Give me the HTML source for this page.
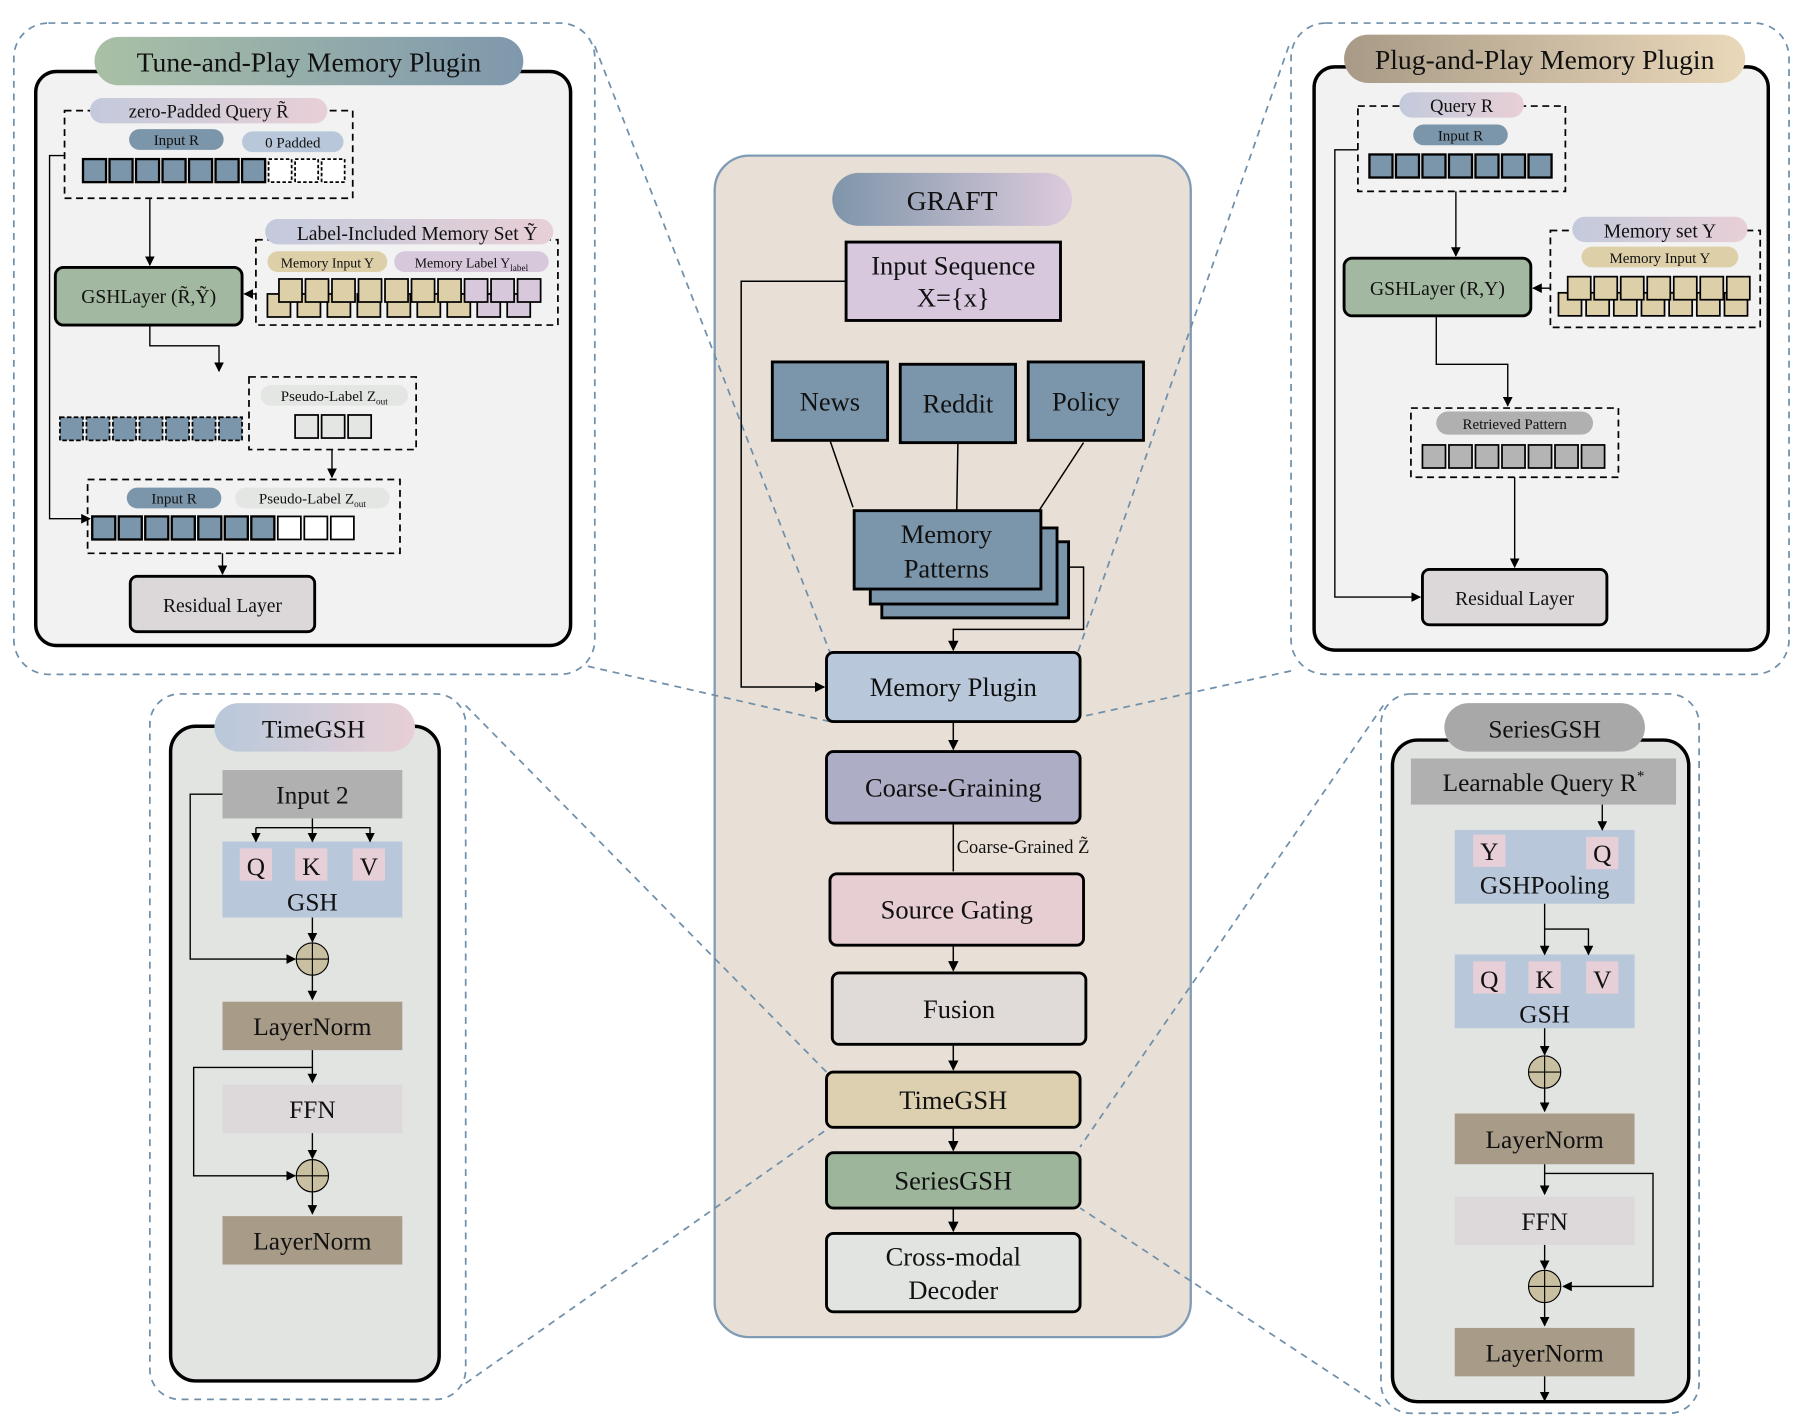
<!DOCTYPE html>
<html><head><meta charset="utf-8"><style>
html,body{margin:0;padding:0;background:#fff;}
svg text{font-family:"Liberation Serif",serif;fill:#111;}
</style></head><body>
<svg width="1804" height="1419" viewBox="0 0 1565 1231" xmlns="http://www.w3.org/2000/svg">
<defs>
<marker id="a" viewBox="0 0 10 10" refX="9" refY="5" markerWidth="7" markerHeight="7" orient="auto"><path d="M0,0L10,5L0,10z" fill="#000"/></marker>
<linearGradient id="g1"><stop offset="0" stop-color="#a9c0a6"/><stop offset="1" stop-color="#7f98ad"/></linearGradient>
<linearGradient id="g2"><stop offset="0" stop-color="#a89a86"/><stop offset="1" stop-color="#ead8ba"/></linearGradient>
<linearGradient id="g3"><stop offset="0" stop-color="#7f95aa"/><stop offset="1" stop-color="#dccbdc"/></linearGradient>
<linearGradient id="g4"><stop offset="0" stop-color="#c3cadc"/><stop offset="1" stop-color="#e8cfd6"/></linearGradient>
<linearGradient id="g5"><stop offset="0" stop-color="#b8c8da"/><stop offset="1" stop-color="#e8cfd6"/></linearGradient>
</defs>
<!-- center -->
<rect x="620" y="135" width="413" height="1025" rx="30" fill="#e8e0d6" stroke="#7f9bb5" stroke-width="2"/>
<g fill="none" stroke="#6f8faa" stroke-width="1.5" stroke-dasharray="6,5">
<rect x="12" y="20" width="504" height="565" rx="30"/>
<rect x="1120" y="20" width="432" height="565" rx="30"/>
<rect x="130" y="602" width="274" height="612" rx="26"/>
<rect x="1198" y="602" width="276" height="624" rx="26"/>
<line x1="516" y1="40" x2="720" y2="566"/><line x1="510" y1="578" x2="720" y2="626"/>
<line x1="1118" y1="40" x2="935" y2="566"/><line x1="1120" y1="582" x2="937" y2="622"/>
<line x1="404" y1="612" x2="717" y2="930"/><line x1="404" y1="1200" x2="717" y2="980"/>
<line x1="1200" y1="612" x2="937" y2="995"/><line x1="1198" y1="1220" x2="937" y2="1048"/>
</g>
<rect x="722" y="150" width="208" height="46" rx="23" fill="url(#g3)"/>
<text x="826" y="182" font-size="24" text-anchor="middle">GRAFT</text>
<g stroke="#000" stroke-width="2.5">
<rect x="734" y="210" width="186" height="68" fill="#d8c8de"/>
<rect x="670" y="314" width="100" height="68" fill="#7b95aa"/>
<rect x="781" y="316" width="100" height="68" fill="#7b95aa"/>
<rect x="892" y="314" width="100" height="68" fill="#7b95aa"/>
<rect x="765" y="470" width="162" height="66" fill="#7b95aa"/>
<rect x="755" y="458" width="162" height="66" fill="#7b95aa"/>
<rect x="741" y="443" width="162" height="68" fill="#7b95aa"/>
<rect x="717" y="566" width="220" height="60" rx="6" fill="#b8c8da"/>
<rect x="717" y="652" width="220" height="62" rx="6" fill="#aeadc6"/>
<rect x="720" y="758" width="220" height="62" rx="6" fill="#e6ced2"/>
<rect x="722" y="844" width="220" height="62" rx="6" fill="#e0dad8"/>
<rect x="717" y="930" width="220" height="48" rx="6" fill="#ddd0b0"/>
<rect x="717" y="1000" width="220" height="48" rx="6" fill="#9db59b"/>
<rect x="717" y="1070" width="220" height="68" rx="6" fill="#e2e4e2"/>
</g>
<g font-size="23" text-anchor="middle">
<text x="827" y="238">Input Sequence</text><text x="827" y="266">X={x}</text>
<text x="720" y="356">News</text><text x="831" y="358">Reddit</text><text x="942" y="356">Policy</text>
<text x="821" y="471">Memory</text><text x="821" y="501">Patterns</text>
<text x="827" y="604">Memory Plugin</text>
<text x="827" y="691">Coarse-Graining</text>
<text x="830" y="797">Source Gating</text>
<text x="832" y="883">Fusion</text>
<text x="827" y="962">TimeGSH</text>
<text x="827" y="1032">SeriesGSH</text>
<text x="827" y="1098">Cross-modal</text><text x="827" y="1127">Decoder</text>
</g>
<g stroke="#000" stroke-width="1.3" fill="none">
<line x1="720" y1="382" x2="740" y2="440"/><line x1="831" y1="384" x2="830" y2="442"/><line x1="940" y1="384" x2="902" y2="442"/>
<polyline points="927,492 940,492 940,546 827,546 827,564" marker-end="url(#a)"/>
<polyline points="734,244 643,244 643,596 715,596" marker-end="url(#a)"/>
<line x1="827" y1="626" x2="827" y2="650" marker-end="url(#a)"/>
<line x1="827" y1="714" x2="827" y2="756"/>
<line x1="827" y1="820" x2="827" y2="842" marker-end="url(#a)"/>
<line x1="827" y1="906" x2="827" y2="928" marker-end="url(#a)"/>
<line x1="827" y1="978" x2="827" y2="998" marker-end="url(#a)"/>
<line x1="827" y1="1048" x2="827" y2="1068" marker-end="url(#a)"/>
</g>
<text x="830" y="740" font-size="16">Coarse-Grained Z̃</text>

<!-- Tune-and-Play -->
<rect x="31" y="62" width="464" height="498" rx="18" fill="#f2f2f2" stroke="#000" stroke-width="3"/>
<rect x="1140" y="58" width="394" height="506" rx="18" fill="#f2f2f2" stroke="#000" stroke-width="3"/>
<rect x="82" y="32" width="372" height="42" rx="21" fill="url(#g1)"/>
<text x="268" y="62" font-size="24" text-anchor="middle">Tune-and-Play Memory Plugin</text>
<g fill="none" stroke="#000" stroke-width="1.5" stroke-dasharray="6,4">
<rect x="56" y="96" width="250" height="76"/>
<rect x="222" y="208" width="262" height="74"/>
<rect x="216" y="327" width="145" height="63"/>
<rect x="76" y="416" width="271" height="64"/>
<rect x="1178" y="92" width="180" height="74"/>
<rect x="1345" y="200" width="182" height="84"/>
<rect x="1224" y="354" width="180" height="60"/>
</g>
<rect x="78" y="85" width="206" height="22" rx="11" fill="url(#g4)"/>
<text x="181" y="102" font-size="16" text-anchor="middle">zero-Padded Query R̃</text>
<rect x="112" y="112" width="82" height="18" rx="9" fill="#7b95aa"/><text x="153" y="126" font-size="13" text-anchor="middle">Input R</text>
<rect x="210" y="114" width="88" height="18" rx="9" fill="#b8c8da"/><text x="254" y="128" font-size="13" text-anchor="middle">0 Padded</text>
<g stroke="#000" stroke-width="2" fill="#7b95aa">
<rect x="72" y="138" width="20" height="20"/><rect x="95" y="138" width="20" height="20"/><rect x="118" y="138" width="20" height="20"/><rect x="141" y="138" width="20" height="20"/><rect x="164" y="138" width="20" height="20"/><rect x="187" y="138" width="20" height="20"/><rect x="210" y="138" width="20" height="20"/>
</g>
<g stroke="#000" stroke-width="1.5" fill="#fff" stroke-dasharray="3,2">
<rect x="233" y="138" width="20" height="20"/><rect x="256" y="138" width="20" height="20"/><rect x="279" y="138" width="20" height="20"/>
</g>
<rect x="48" y="232" width="162" height="50" rx="7" fill="#a3b8a0" stroke="#000" stroke-width="2.5"/>
<text x="129" y="263" font-size="17" text-anchor="middle">GSHLayer (R̃,Ỹ)</text>
<rect x="230" y="190" width="250" height="22" rx="11" fill="url(#g4)"/>
<text x="362" y="208" font-size="17" text-anchor="middle">Label-Included Memory Set Ỹ</text>
<rect x="232" y="218" width="104" height="18" rx="9" fill="#ddcfa8"/><text x="284" y="232" font-size="12" text-anchor="middle">Memory Input Y</text>
<rect x="342" y="218" width="134" height="18" rx="9" fill="#d8c8dc"/><text x="409" y="232" font-size="12" text-anchor="middle">Memory Label Y<tspan font-size="8" dy="3">label</tspan></text>
<g stroke="#000" stroke-width="1.5">
<g fill="#ddcfa8">
<rect x="232" y="255" width="20" height="20"/><rect x="258" y="255" width="20" height="20"/><rect x="284" y="255" width="20" height="20"/><rect x="310" y="255" width="20" height="20"/><rect x="336" y="255" width="20" height="20"/><rect x="362" y="255" width="20" height="20"/><rect x="388" y="255" width="20" height="20"/>
<rect x="242" y="242" width="20" height="20"/><rect x="265" y="242" width="20" height="20"/><rect x="288" y="242" width="20" height="20"/><rect x="311" y="242" width="20" height="20"/><rect x="334" y="242" width="20" height="20"/><rect x="357" y="242" width="20" height="20"/><rect x="380" y="242" width="20" height="20"/>
</g>
<g fill="#d8c8dc">
<rect x="414" y="255" width="20" height="20"/><rect x="440" y="255" width="20" height="20"/>
<rect x="403" y="242" width="20" height="20"/><rect x="426" y="242" width="20" height="20"/><rect x="449" y="242" width="20" height="20"/>
</g>
</g>
<g stroke="#000" stroke-width="1.5" fill="#7b95aa" stroke-dasharray="4,2">
<rect x="52" y="362" width="20" height="20"/><rect x="75" y="362" width="20" height="20"/><rect x="98" y="362" width="20" height="20"/><rect x="121" y="362" width="20" height="20"/><rect x="144" y="362" width="20" height="20"/><rect x="167" y="362" width="20" height="20"/><rect x="190" y="362" width="20" height="20"/>
</g>
<rect x="226" y="334" width="128" height="18" rx="9" fill="#e4e6e4"/><text x="290" y="348" font-size="13" text-anchor="middle">Pseudo-Label Z<tspan font-size="8" dy="3">out</tspan></text>
<g stroke="#000" stroke-width="1.5" fill="#e4e6e4"><rect x="256" y="360" width="20" height="20"/><rect x="279" y="360" width="20" height="20"/><rect x="302" y="360" width="20" height="20"/></g>
<rect x="110" y="423" width="82" height="18" rx="9" fill="#7b95aa"/><text x="151" y="437" font-size="13" text-anchor="middle">Input R</text>
<rect x="204" y="423" width="134" height="18" rx="9" fill="#e4e6e4"/><text x="271" y="437" font-size="13" text-anchor="middle">Pseudo-Label Z<tspan font-size="8" dy="3">out</tspan></text>
<g stroke="#000" stroke-width="2" fill="#7b95aa">
<rect x="80" y="448" width="20" height="20"/><rect x="103" y="448" width="20" height="20"/><rect x="126" y="448" width="20" height="20"/><rect x="149" y="448" width="20" height="20"/><rect x="172" y="448" width="20" height="20"/><rect x="195" y="448" width="20" height="20"/><rect x="218" y="448" width="20" height="20"/>
</g>
<g stroke="#000" stroke-width="1.5" fill="#fff"><rect x="241" y="448" width="20" height="20"/><rect x="264" y="448" width="20" height="20"/><rect x="287" y="448" width="20" height="20"/></g>
<rect x="113" y="500" width="160" height="48" rx="6" fill="#dcd8da" stroke="#000" stroke-width="2.5"/>
<text x="193" y="531" font-size="17" text-anchor="middle">Residual Layer</text>
<g stroke="#000" stroke-width="1.2" fill="none">
<line x1="130" y1="172" x2="130" y2="230" marker-end="url(#a)"/>
<polyline points="56,135 43,135 43,450 78,450" marker-end="url(#a)"/>
<line x1="222" y1="255" x2="212" y2="255" marker-end="url(#a)"/>
<polyline points="130,282 130,300 190,300 190,322" marker-end="url(#a)"/>
<line x1="288" y1="390" x2="288" y2="414" marker-end="url(#a)"/>
<line x1="193" y1="480" x2="193" y2="498" marker-end="url(#a)"/>
</g>

<!-- Plug-and-Play -->
<rect x="1166" y="30" width="348" height="42" rx="21" fill="url(#g2)"/>
<text x="1340" y="60" font-size="24" text-anchor="middle">Plug-and-Play Memory Plugin</text>
<rect x="1214" y="80" width="108" height="22" rx="11" fill="url(#g4)"/><text x="1268" y="97" font-size="16" text-anchor="middle">Query R</text>
<rect x="1226" y="108" width="82" height="18" rx="9" fill="#7b95aa"/><text x="1267" y="122" font-size="13" text-anchor="middle">Input R</text>
<g stroke="#000" stroke-width="2" fill="#7b95aa">
<rect x="1188" y="134" width="20" height="20"/><rect x="1211" y="134" width="20" height="20"/><rect x="1234" y="134" width="20" height="20"/><rect x="1257" y="134" width="20" height="20"/><rect x="1280" y="134" width="20" height="20"/><rect x="1303" y="134" width="20" height="20"/><rect x="1326" y="134" width="20" height="20"/>
</g>
<rect x="1166" y="224" width="162" height="50" rx="7" fill="#a3b8a0" stroke="#000" stroke-width="2.5"/>
<text x="1247" y="256" font-size="17" text-anchor="middle">GSHLayer (R,Y)</text>
<rect x="1364" y="188" width="152" height="22" rx="11" fill="url(#g4)"/><text x="1440" y="206" font-size="17" text-anchor="middle">Memory set Y</text>
<rect x="1372" y="214" width="136" height="18" rx="9" fill="#ddcfa8"/><text x="1440" y="228" font-size="13" text-anchor="middle">Memory Input Y</text>
<g stroke="#000" stroke-width="1.5" fill="#ddcfa8">
<rect x="1352" y="254" width="20" height="20"/><rect x="1376" y="254" width="20" height="20"/><rect x="1400" y="254" width="20" height="20"/><rect x="1424" y="254" width="20" height="20"/><rect x="1448" y="254" width="20" height="20"/><rect x="1472" y="254" width="20" height="20"/><rect x="1496" y="254" width="20" height="20"/>
<rect x="1360" y="240" width="20" height="20"/><rect x="1383" y="240" width="20" height="20"/><rect x="1406" y="240" width="20" height="20"/><rect x="1429" y="240" width="20" height="20"/><rect x="1452" y="240" width="20" height="20"/><rect x="1475" y="240" width="20" height="20"/><rect x="1498" y="240" width="20" height="20"/>
</g>
<rect x="1246" y="357" width="136" height="20" rx="10" fill="#b0b0b0"/><text x="1314" y="372" font-size="13" text-anchor="middle">Retrieved Pattern</text>
<g stroke="#000" stroke-width="1.5" fill="#b4b4b4">
<rect x="1234" y="386" width="20" height="20"/><rect x="1257" y="386" width="20" height="20"/><rect x="1280" y="386" width="20" height="20"/><rect x="1303" y="386" width="20" height="20"/><rect x="1326" y="386" width="20" height="20"/><rect x="1349" y="386" width="20" height="20"/><rect x="1372" y="386" width="20" height="20"/>
</g>
<rect x="1234" y="494" width="160" height="48" rx="6" fill="#dcd8da" stroke="#000" stroke-width="2.5"/>
<text x="1314" y="525" font-size="17" text-anchor="middle">Residual Layer</text>
<g stroke="#000" stroke-width="1.2" fill="none">
<line x1="1263" y1="166" x2="1263" y2="222" marker-end="url(#a)"/>
<polyline points="1178,130 1158,130 1158,518 1232,518" marker-end="url(#a)"/>
<line x1="1345" y1="250" x2="1330" y2="250" marker-end="url(#a)"/>
<polyline points="1246,274 1246,316 1308,316 1308,352" marker-end="url(#a)"/>
<line x1="1314" y1="414" x2="1314" y2="492" marker-end="url(#a)"/>
</g>

<!-- TimeGSH -->
<rect x="148" y="630" width="233" height="568" rx="22" fill="#e2e4e2" stroke="#000" stroke-width="3"/>
<rect x="186" y="610" width="174" height="42" rx="21" fill="url(#g5)"/>
<text x="272" y="640" font-size="22" text-anchor="middle">TimeGSH</text>
<rect x="193" y="668" width="156" height="42" fill="#b0b0b0"/><text x="271" y="697" font-size="22" text-anchor="middle">Input 2</text>
<rect x="193" y="730" width="156" height="66" fill="#b8c8da"/>
<rect x="208" y="736" width="28" height="28" fill="#e6cfd6"/><rect x="256" y="736" width="28" height="28" fill="#e6cfd6"/><rect x="306" y="736" width="28" height="28" fill="#e6cfd6"/>
<g font-size="22" text-anchor="middle"><text x="222" y="759">Q</text><text x="270" y="759">K</text><text x="320" y="759">V</text><text x="271" y="790">GSH</text></g>
<rect x="193" y="869" width="156" height="42" fill="#a89c88"/><text x="271" y="898" font-size="22" text-anchor="middle">LayerNorm</text>
<rect x="193" y="941" width="156" height="42" fill="#ddd8da"/><text x="271" y="970" font-size="22" text-anchor="middle">FFN</text>
<rect x="193" y="1055" width="156" height="42" fill="#a89c88"/><text x="271" y="1084" font-size="22" text-anchor="middle">LayerNorm</text>
<g stroke="#000" stroke-width="1.2" fill="none">
<line x1="271" y1="710" x2="271" y2="730" marker-end="url(#a)"/>
<polyline points="222,718 321,718 321,730" marker-end="url(#a)"/>
<line x1="222" y1="718" x2="222" y2="730" marker-end="url(#a)"/>
<polyline points="193,689 165,689 165,832 256,832" marker-end="url(#a)"/>
<line x1="271" y1="796" x2="271" y2="817" marker-end="url(#a)"/>
<line x1="271" y1="846" x2="271" y2="867" marker-end="url(#a)"/>
<line x1="271" y1="911" x2="271" y2="939" marker-end="url(#a)"/>
<polyline points="271,926 168,926 168,1020 256,1020" marker-end="url(#a)"/>
<line x1="271" y1="983" x2="271" y2="1005" marker-end="url(#a)"/>
<line x1="271" y1="1034" x2="271" y2="1053" marker-end="url(#a)"/>
</g>
<g stroke="#000" stroke-width="1"><circle cx="271" cy="832" r="14" fill="#c8c0a0"/><line x1="257" y1="832" x2="285" y2="832"/><line x1="271" y1="818" x2="271" y2="846"/>
<circle cx="271" cy="1020" r="14" fill="#c8c0a0"/><line x1="257" y1="1020" x2="285" y2="1020"/><line x1="271" y1="1006" x2="271" y2="1034"/></g>

<!-- SeriesGSH -->
<rect x="1208" y="642" width="257" height="574" rx="22" fill="#e2e4e2" stroke="#000" stroke-width="3"/>
<rect x="1253" y="610" width="174" height="42" rx="21" fill="#a8a8a8"/>
<text x="1340" y="640" font-size="22" text-anchor="middle">SeriesGSH</text>
<rect x="1224" y="658" width="230" height="40" fill="#b0b0b0"/><text x="1339" y="686" font-size="22" text-anchor="middle">Learnable Query R<tspan font-size="13" dy="-9">*</tspan></text>
<rect x="1262" y="720" width="156" height="64" fill="#b8c8da"/>
<rect x="1278" y="724" width="28" height="28" fill="#e6cfd6"/><rect x="1376" y="726" width="28" height="28" fill="#e6cfd6"/>
<rect x="1262" y="828" width="156" height="64" fill="#b8c8da"/>
<rect x="1278" y="834" width="28" height="28" fill="#e6cfd6"/><rect x="1326" y="834" width="28" height="28" fill="#e6cfd6"/><rect x="1376" y="834" width="28" height="28" fill="#e6cfd6"/>
<g font-size="22" text-anchor="middle"><text x="1292" y="746">Y</text><text x="1390" y="748">Q</text><text x="1340" y="775">GSHPooling</text>
<text x="1292" y="857">Q</text><text x="1340" y="857">K</text><text x="1390" y="857">V</text><text x="1340" y="887">GSH</text></g>
<rect x="1262" y="966" width="156" height="44" fill="#a89c88"/><text x="1340" y="996" font-size="22" text-anchor="middle">LayerNorm</text>
<rect x="1262" y="1038" width="156" height="42" fill="#ddd8da"/><text x="1340" y="1067" font-size="22" text-anchor="middle">FFN</text>
<rect x="1262" y="1152" width="156" height="42" fill="#a89c88"/><text x="1340" y="1181" font-size="22" text-anchor="middle">LayerNorm</text>
<g stroke="#000" stroke-width="1.2" fill="none">
<line x1="1390" y1="698" x2="1390" y2="720" marker-end="url(#a)"/>
<line x1="1340" y1="784" x2="1340" y2="828" marker-end="url(#a)"/>
<polyline points="1340,806 1378,806 1378,828" marker-end="url(#a)"/>
<line x1="1340" y1="892" x2="1340" y2="915" marker-end="url(#a)"/>
<line x1="1340" y1="944" x2="1340" y2="964" marker-end="url(#a)"/>
<line x1="1340" y1="1010" x2="1340" y2="1036" marker-end="url(#a)"/>
<polyline points="1340,1018 1434,1018 1434,1116 1356,1116" marker-end="url(#a)"/>
<line x1="1340" y1="1080" x2="1340" y2="1101" marker-end="url(#a)"/>
<line x1="1340" y1="1130" x2="1340" y2="1150" marker-end="url(#a)"/>
<line x1="1340" y1="1194" x2="1340" y2="1215" marker-end="url(#a)"/>
</g>
<g stroke="#000" stroke-width="1"><circle cx="1340" cy="930" r="14" fill="#c8c0a0"/><line x1="1326" y1="930" x2="1354" y2="930"/><line x1="1340" y1="916" x2="1340" y2="944"/>
<circle cx="1340" cy="1116" r="14" fill="#c8c0a0"/><line x1="1326" y1="1116" x2="1354" y2="1116"/><line x1="1340" y1="1102" x2="1340" y2="1130"/></g>
</svg>
</body></html>
